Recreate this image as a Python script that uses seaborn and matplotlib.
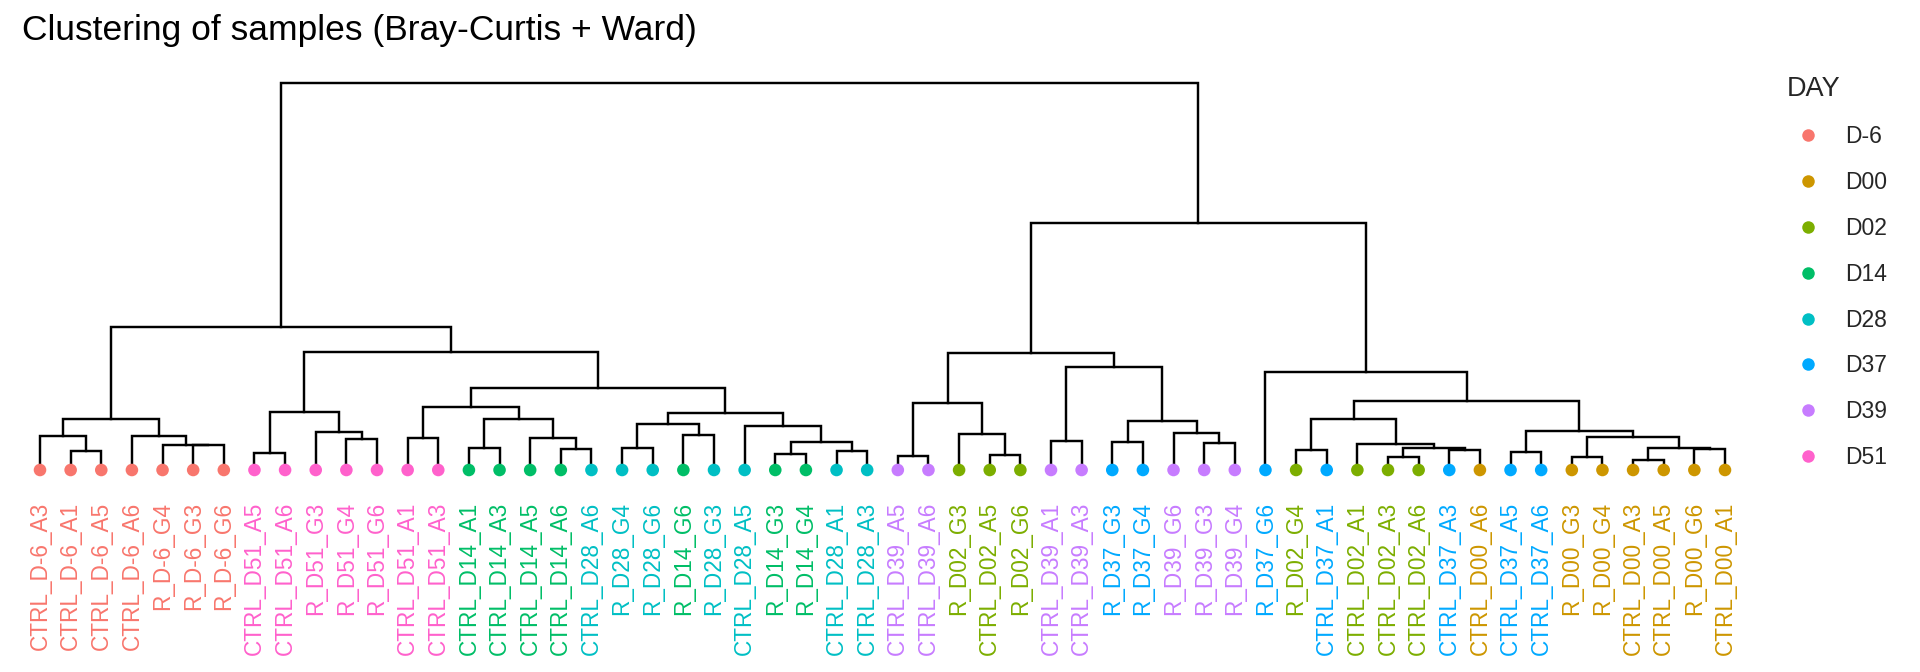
import numpy as np
import pandas as pd
import matplotlib
matplotlib.use("Agg")
import matplotlib.pyplot as plt
import seaborn as sns

# ---------------- data ----------------
leaf_labels = [
    "CTRL_D-6_A3", "CTRL_D-6_A1", "CTRL_D-6_A5", "CTRL_D-6_A6", "R_D-6_G4", "R_D-6_G3", "R_D-6_G6",
    "CTRL_D51_A5", "CTRL_D51_A6", "R_D51_G3", "R_D51_G4", "R_D51_G6", "CTRL_D51_A1", "CTRL_D51_A3",
    "CTRL_D14_A1", "CTRL_D14_A3", "CTRL_D14_A5", "CTRL_D14_A6", "CTRL_D28_A6", "R_D28_G4", "R_D28_G6",
    "R_D14_G6", "R_D28_G3", "CTRL_D28_A5", "R_D14_G3", "R_D14_G4", "CTRL_D28_A1", "CTRL_D28_A3",
    "CTRL_D39_A5", "CTRL_D39_A6", "R_D02_G3", "CTRL_D02_A5", "R_D02_G6", "CTRL_D39_A1", "CTRL_D39_A3",
    "R_D37_G3", "R_D37_G4", "R_D39_G6", "R_D39_G3", "R_D39_G4", "R_D37_G6", "R_D02_G4",
    "CTRL_D37_A1", "CTRL_D02_A1", "CTRL_D02_A3", "CTRL_D02_A6", "CTRL_D37_A3", "CTRL_D00_A6",
    "CTRL_D37_A5", "CTRL_D37_A6", "R_D00_G3", "R_D00_G4", "CTRL_D00_A3", "CTRL_D00_A5", "R_D00_G6",
    "CTRL_D00_A1",
]
day_levels = ["D-6", "D00", "D02", "D14", "D28", "D37", "D39", "D51"]
day_colors = ["#F8766D", "#CD9600", "#7CAE00", "#00BE67", "#00BFC4", "#00A9FF", "#C77CFF", "#FF61CC"]

# merges: ids < 56 are leaves (in plotted order), id 56+k is the k-th merge below
merge_left = [1, 0, 5, 4, 3, 57, 7, 10, 9, 62, 12, 14, 17, 16, 67, 66, 19, 21, 72, 24,
              26, 75, 23, 74, 71, 65, 61, 28, 31, 30, 83, 33, 35, 38, 37, 88, 87, 86, 41, 44,
              46, 95, 43, 94, 48, 50, 52, 54, 102, 101, 100, 99, 40, 93, 82]
merge_right = [2, 56, 6, 58, 59, 60, 8, 11, 63, 64, 13, 15, 18, 68, 69, 70, 20, 22, 73, 25,
               27, 76, 77, 78, 79, 80, 81, 29, 32, 84, 85, 34, 36, 39, 89, 90, 91, 92, 42, 45,
               47, 96, 97, 98, 49, 51, 53, 55, 103, 104, 105, 106, 107, 108, 109]
merge_height = [0.193, 0.345, 0.248, 0.250, 0.345, 0.508, 0.173, 0.307, 0.377, 0.577,
                0.317, 0.223, 0.213, 0.317, 0.507, 0.633, 0.217, 0.347, 0.457, 0.160,
                0.193, 0.277, 0.443, 0.567, 0.823, 1.185, 1.427, 0.143, 0.150, 0.360,
                0.667, 0.293, 0.277, 0.267, 0.367, 0.490, 1.033, 1.173, 0.200, 0.133,
                0.200, 0.217, 0.257, 0.507, 0.177, 0.133, 0.100, 0.213, 0.220, 0.333,
                0.387, 0.690, 0.980, 2.473, 3.870]

# ---------------- layout / style ----------------
W, H, DPI = 1920, 672, 100
sns.set_theme(style="white")
plt.rcParams["font.family"] = ["Liberation Sans", "DejaVu Sans"]

n = len(leaf_labels)
leaf_days = [lab.split("_")[1] for lab in leaf_labels]
df = pd.DataFrame({"pos": np.arange(n), "h": np.zeros(n), "label": leaf_labels,
                   "DAY": pd.Categorical(leaf_days, categories=day_levels)})

fig = plt.figure(figsize=(W / DPI, H / DPI), dpi=DPI)
fig.patch.set_facecolor("white")

# axes: leaf 0 at px 40, leaf 55 at px 1725 ; height 0 at px 470, root at px 83
step = (1725 - 40) / (n - 1)
x_left = 40 - 0.5 * step
x_right = 1725 + 0.5 * step
ax = fig.add_axes([x_left / W, (H - 470) / H, (x_right - x_left) / W, (470 - 83) / H])
ax.set_xlim(-0.5, n - 0.5)
ax.set_ylim(0, max(merge_height))

# build dendrogram segments
node_x = list(np.arange(n, dtype=float))
node_h = [0.0] * n
for l, r, h in zip(merge_left, merge_right, merge_height):
    xl, xr = node_x[l], node_x[r]
    ax.plot([xl, xl, xr, xr], [node_h[l], h, h, node_h[r]], color="black",
            lw=1.75, solid_capstyle="projecting", solid_joinstyle="miter", clip_on=False, zorder=2)
    node_x.append((xl + xr) / 2)
    node_h.append(h)

sns.scatterplot(data=df, x="pos", y="h", hue="DAY", hue_order=day_levels, palette=day_colors,
                s=82, linewidth=0, ax=ax, clip_on=False, zorder=3, legend=True)

handles, labels = ax.get_legend_handles_labels()
if ax.legend_ is not None:
    ax.legend_.remove()

ax.set_xticks(np.arange(n))
ax.set_xticklabels(leaf_labels, rotation=90, fontsize=16.3)
ax.tick_params(axis="x", length=0, pad=23)
for t, d in zip(ax.get_xticklabels(), leaf_days):
    t.set_color(day_colors[day_levels.index(d)])
ax.set_yticks([])
ax.set_xlabel("")
ax.set_ylabel("")
for s in ax.spines.values():
    s.set_visible(False)
ax.set_facecolor("none")

leg = fig.legend(handles, labels, title="DAY", loc="upper left",
                 bbox_to_anchor=(1787 / W, 1 - 76 / H), frameon=False,
                 fontsize=16.5, title_fontsize=19.5, handlelength=1.83, handletextpad=0.72,
                 labelspacing=1.0, borderpad=0, borderaxespad=0, alignment="left")
for hd in leg.legend_handles:
    hd.set_markersize(9.0)

fig.text(22 / W, 1 - 40 / H, "Clustering of samples (Bray-Curtis + Ward)", fontsize=25.5,
         ha="left", va="baseline", color="black")

fig.savefig("out.png", dpi=DPI, facecolor="white")
